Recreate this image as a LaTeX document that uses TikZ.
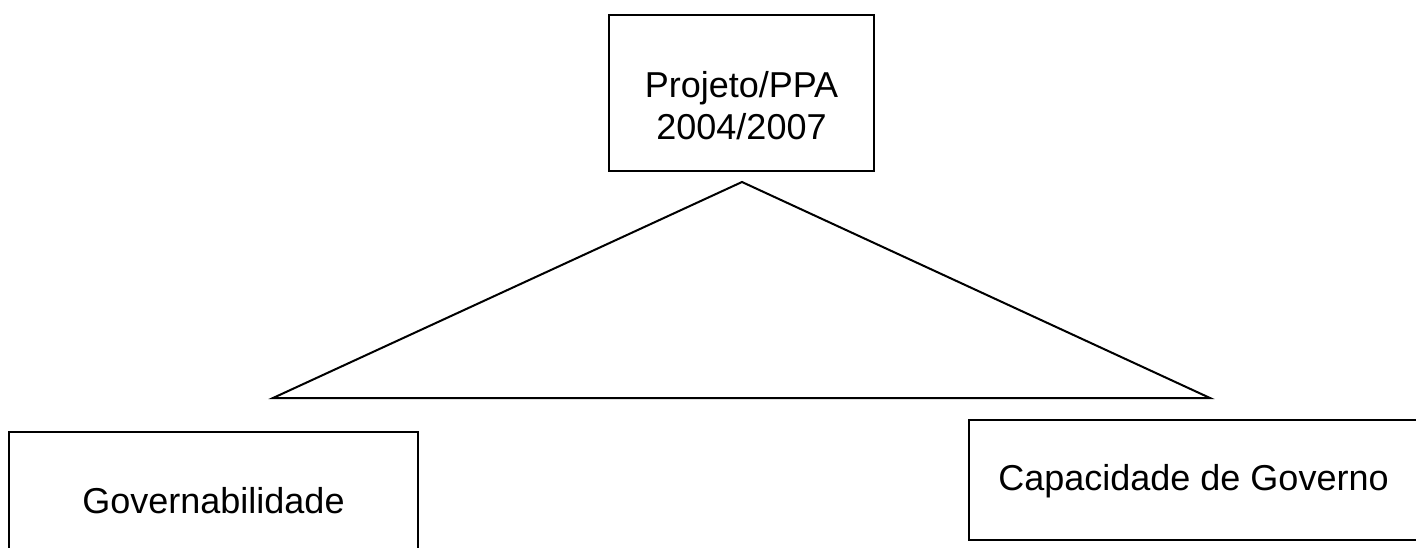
\documentclass[tikz,border=0pt]{standalone}
\usepackage{fontspec}
\setmainfont{Liberation Sans}
\begin{document}
\begin{tikzpicture}[x=1pt,y=-1pt,
  box/.style={draw=black, line width=2pt, rectangle, inner sep=0pt,
    font=\fontsize{36}{42}\selectfont, text=black, text height=26pt}]
\useasboundingbox (0,0) rectangle (1416,548);
\clip (0,0) rectangle (1416,548);
\fill[white] (0,0) rectangle (1416,548);
% top box
\node[box, align=center, text height=110pt, text depth=16pt, minimum width=265pt, minimum height=156pt]
  (ppa) at (741.5,93) {Projeto/PPA\\2004/2007};
% triangle
\coordinate (apex) at (742,182);
\coordinate (bl) at (273,398);
\coordinate (br) at (1210,398);
\draw[line width=2pt, line join=miter] (apex) -- (bl) -- (br) -- cycle;
% bottom boxes
\node[box, text depth=0pt, minimum width=409pt, minimum height=136pt]
  (gov) at (213.5,500) {Governabilidade};
\node[box, text depth=5pt, minimum width=449pt, minimum height=120pt]
  (cap) at (1193.5,480) {Capacidade de Governo};
\end{tikzpicture}
\end{document}
